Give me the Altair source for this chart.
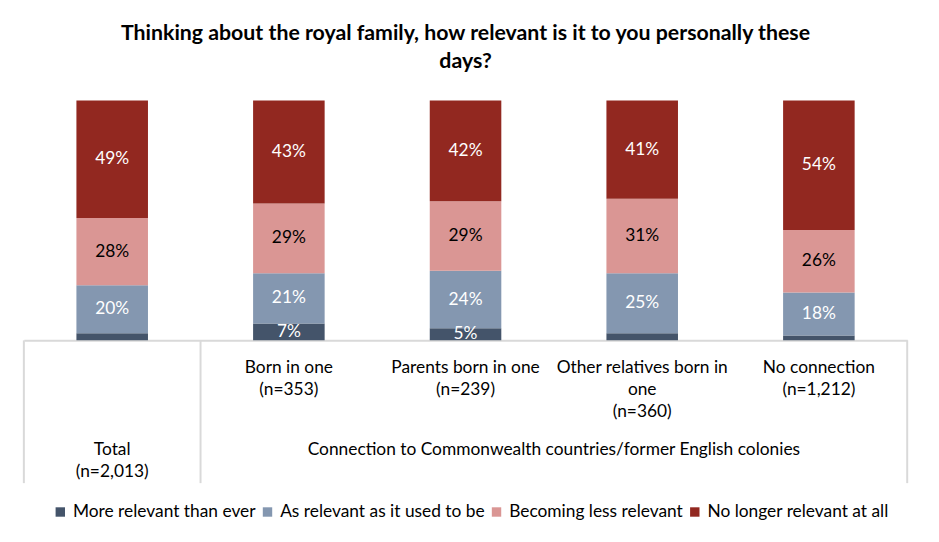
import altair as alt
import pandas as pd

categories = ["Total", "Born in one", "Parents born in one", "Other relatives born in one", "No connection"]
cat_lines = [["Total", "(n=2,013)"], ["Born in one", "(n=353)"], ["Parents born in one", "(n=239)"],
             ["Other relatives born in", "one", "(n=360)"], ["No connection", "(n=1,212)"]]
series = ["More relevant than ever", "As relevant as it used to be", "Becoming less relevant", "No longer relevant at all"]
colors = ["#44546A", "#8497B0", "#DA9694", "#922820"]
more_relevant = [3, 7, 5, 3, 2]
as_relevant = [20, 21, 24, 25, 18]
less_relevant = [28, 29, 29, 31, 26]
no_longer = [49, 43, 42, 41, 54]
values = [more_relevant, as_relevant, less_relevant, no_longer]
group_label = "Connection to Commonwealth countries/former English colonies"

FONT = "Lato"
FS = 17.5

rows = []
for i, c in enumerate(categories):
    for j, s in enumerate(series):
        rows.append({"category": c, "series": s, "value": values[j][i], "order": j})
df = pd.DataFrame(rows)

W, H = 891, 242
xs = alt.Scale(domain=categories, paddingInner=0, paddingOuter=0)
xenc = alt.X("category:N", scale=xs,
             axis=alt.Axis(title=None, labels=False, ticks=False, domainColor="#D9D9D9", domainWidth=2, grid=False))

base = alt.Chart(df).transform_stack(
    stack="value", groupby=["category"], sort=[alt.SortField("order")], as_=["y0", "y1"]
).transform_calculate(mid="(datum.y0 + datum.y1) / 2", label="datum.value + '%'")

bars = base.mark_bar(width=alt.RelativeBandSize(0.405)).encode(
    x=xenc,
    y=alt.Y("y0:Q", scale=alt.Scale(domain=[0, 100]), axis=None),
    y2="y1:Q",
    color=alt.Color("series:N", scale=alt.Scale(domain=series, range=colors),
                    legend=alt.Legend(title=None, orient="none", legendX=28, legendY=406,
                                      direction="horizontal", symbolType="square", symbolSize=90,
                                      symbolStrokeWidth=0, labelFont=FONT, labelFontSize=FS,
                                      labelColor="black", columnPadding=3, labelOffset=4, labelLimit=0)),
    order=alt.Order("order:Q"),
)

seg_labels = base.transform_filter("datum.value >= 5").mark_text(font=FONT, fontSize=FS).encode(
    x=alt.X("category:N", scale=xs),
    y=alt.Y("mid:Q", scale=alt.Scale(domain=[0, 100])),
    text="label:N",
    color=alt.condition("datum.series == 'Becoming less relevant'", alt.value("black"), alt.value("white")),
)

lab_df = pd.DataFrame({"category": categories[1:], "lines": cat_lines[1:]})
cat_text = alt.Chart(lab_df).mark_text(font=FONT, fontSize=FS, baseline="middle", lineHeight=22, color="black").encode(
    x=alt.X("category:N", scale=xs), y=alt.value(270), text="lines")

total_df = pd.DataFrame({"category": [categories[0]], "lines": [cat_lines[0]]})
total_text = alt.Chart(total_df).mark_text(font=FONT, fontSize=FS, baseline="middle", lineHeight=22, color="black").encode(
    x=alt.X("category:N", scale=xs), y=alt.value(353), text="lines")

grp_df = pd.DataFrame({"category": [categories[2]], "text": [group_label]})
grp_text = alt.Chart(grp_df).mark_text(font=FONT, fontSize=FS, baseline="middle", color="black").encode(
    x=alt.X("category:N", scale=xs, bandPosition=1), y=alt.value(353), text="text")

rule_start = alt.Chart(pd.DataFrame({"category": categories[:2]})).mark_rule(color="#D9D9D9", strokeWidth=2).encode(
    x=alt.X("category:N", scale=xs, bandPosition=0), y=alt.value(242), y2=alt.value(386))
rule_end = alt.Chart(pd.DataFrame({"category": categories[-1:]})).mark_rule(color="#D9D9D9", strokeWidth=2).encode(
    x=alt.X("category:N", scale=xs, bandPosition=1), y=alt.value(242), y2=alt.value(386))

chart = alt.layer(bars, seg_labels, rule_start, rule_end, cat_text, total_text, grp_text).properties(
    width=W, height=H,
    autosize=alt.AutoSizeParams(type="none"),
    padding={"left": 16, "top": 91, "right": 24, "bottom": 185},
    title=alt.TitleParams(
        ["Thinking about the royal family, how relevant is it to you personally these", "days?"],
        font=FONT, fontSize=21.5, fontWeight="bold", color="black", anchor="middle", offset=28, lineHeight=28),
).configure_view(stroke=None)

chart.save("out.html", embed_options={"renderer": "svg", "actions": False})
